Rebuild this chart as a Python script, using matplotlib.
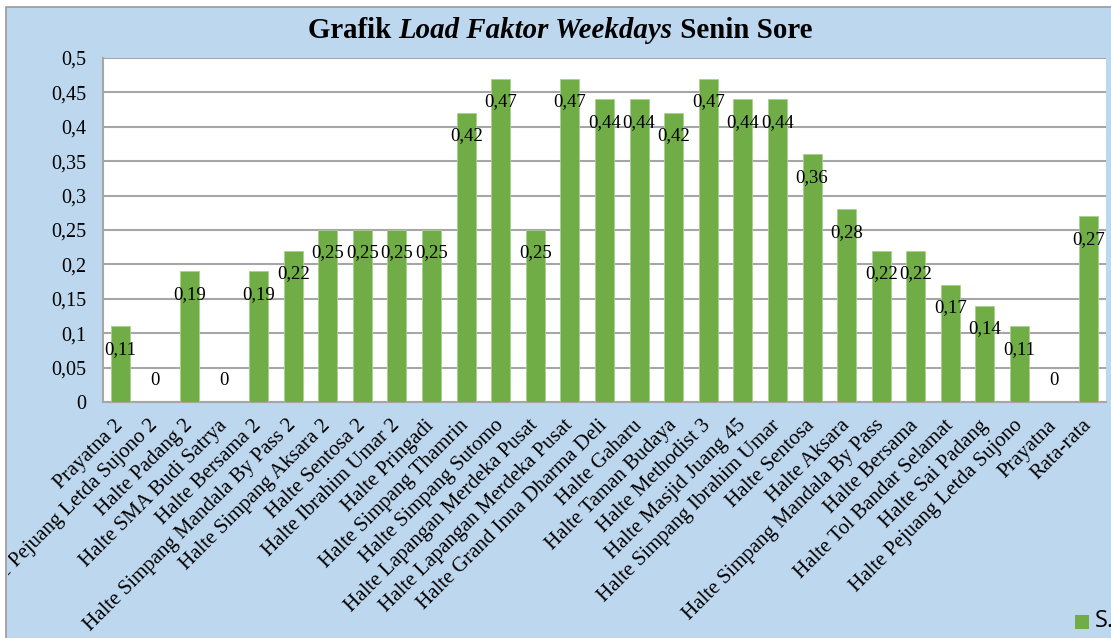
import matplotlib
matplotlib.use("Agg")
import matplotlib.pyplot as plt
from matplotlib.patches import Rectangle
from matplotlib.transforms import Bbox, TransformedBbox
from matplotlib.ticker import FixedLocator, FuncFormatter

# Data dari grafik
halte = [
    "Prayatna 2", "Halte Pejuang Letda Sujono 2", "Halte Padang 2",
    "Halte SMA Budi Satrya", "Halte Bersama 2", "Halte Simpang Mandala By Pass 2",
    "Halte Simpang Aksara 2", "Halte Sentosa 2", "Halte Ibrahim Umar 2",
    "Halte Pringadi", "Halte Simpang Thamrin", "Halte Simpang Sutomo",
    "Halte Lapangan Merdeka Pusat", "Halte Lapangan Merdeka Pusat",
    "Halte Grand Inna Dharma Deli", "Halte Gaharu", "Halte Taman Budaya",
    "Halte Methodist 3", "Halte Masjid Juang 45", "Halte Simpang Ibrahim Umar",
    "Halte Sentosa", "Halte Aksara", "Halte Simpang Mandala By Pass",
    "Halte Bersama", "Halte Tol Bandar Selamat", "Halte Sai Padang",
    "Halte Pejuang Letda Sujono", "Prayatna", "Rata-rata",
]
load_faktor = [
    0.11, 0, 0.19, 0, 0.19, 0.22, 0.25, 0.25, 0.25, 0.25, 0.42, 0.47, 0.25,
    0.47, 0.44, 0.44, 0.42, 0.47, 0.44, 0.44, 0.36, 0.28, 0.22, 0.22, 0.17,
    0.14, 0.11, 0, 0.27,
]
y_ticks = [0, 0.05, 0.1, 0.15, 0.2, 0.25, 0.3, 0.35, 0.4, 0.45, 0.5]

W, H = 1111, 638
BLUE = "#BDD7EE"
GREEN = "#70AD47"
GRID = "#A6A6A6"
SERIF = "Liberation Serif"


def koma(v):
    return "{:g}".format(v).replace(".", ",")


def plot_data():
    fig = plt.figure(figsize=(W / 100, H / 100), dpi=100, facecolor="white")

    # latar biru grafik
    fig.patches.append(Rectangle((6 / W, -0.1), 1.2, 1 - 7 / H + 0.1,
                                 transform=fig.transFigure, facecolor=BLUE,
                                 edgecolor="#9A9A9A", linewidth=1.2, zorder=-10))

    ax = fig.add_axes([103 / W, 1 - 402 / H, 1003 / W, 344 / H])
    ax.set_facecolor("white")

    x = list(range(len(halte)))
    ax.bar(x, load_faktor, width=0.55, color=GREEN, edgecolor="#A9D18E",
           linewidth=0.6, zorder=3)

    for xi, v in zip(x, load_faktor):
        off = 15.8 if v == 0 else -16.5
        ax.annotate(koma(v), (xi, v), xytext=(0, off), textcoords="offset points",
                    ha="center", va="center", fontsize=13.5, family=SERIF,
                    color="black", zorder=4)

    ax.set_xlim(-0.5, len(halte) - 0.5)
    ax.set_ylim(0, 0.5)
    ax.yaxis.set_major_locator(FixedLocator(y_ticks))
    ax.yaxis.set_major_formatter(FuncFormatter(lambda v, p: koma(round(v, 2))))
    ax.grid(axis="y", color=GRID, linewidth=1.5, zorder=1)
    ax.tick_params(axis="y", length=0, pad=12, labelsize=14.5)
    for lbl in ax.get_yticklabels():
        lbl.set_family(SERIF)

    ax.set_xticks(x)
    ax.set_xticklabels(halte, rotation=45, ha="right", va="center",
                       rotation_mode="anchor", fontsize=15, family=SERIF)
    ax.tick_params(axis="x", length=0, pad=15)

    # label yang keluar dari bingkai kiri dipotong seperti aslinya
    clip = TransformedBbox(Bbox([[8 / W, 0], [1, 1]]), fig.transFigure)
    for lbl in ax.get_xticklabels():
        lbl.set_clip_box(clip)
        lbl.set_clip_on(True)

    for s in ["top", "right"]:
        ax.spines[s].set_visible(False)
    ax.spines["left"].set_color(GRID)
    ax.spines["left"].set_linewidth(1.5)
    ax.spines["bottom"].set_color(GRID)
    ax.spines["bottom"].set_linewidth(1.5)

    # judul dengan bagian miring
    renderer = fig.canvas.get_renderer()
    parts = [("Grafik ", "normal"), ("Load Faktor Weekdays", "italic"),
             (" Senin Sore", "normal")]
    texts = []
    for s, st in parts:
        t = fig.text(0, 1 - 31 / H, s, fontsize=20.8, fontweight="bold", style=st,
                     family=SERIF, va="center", ha="left")
        texts.append(t)
    widths = [t.get_window_extent(renderer).width for t in texts]
    start = 560 - sum(widths) / 2
    for t, w in zip(texts, widths):
        t.set_x(start / W)
        start += w

    # legenda terpotong di pojok kanan bawah
    fig.patches.append(Rectangle((1075 / W, 1 - 629 / H), 14 / W, 14 / H,
                                 transform=fig.transFigure, facecolor=GREEN,
                                 edgecolor="none"))
    fig.text(1095 / W, 1 - 621 / H, "S.", fontsize=17, family="Open Sans",
             va="center", ha="left")

    fig.savefig("out.png", dpi=100, facecolor="white")


if __name__ == "__main__":
    plot_data()
